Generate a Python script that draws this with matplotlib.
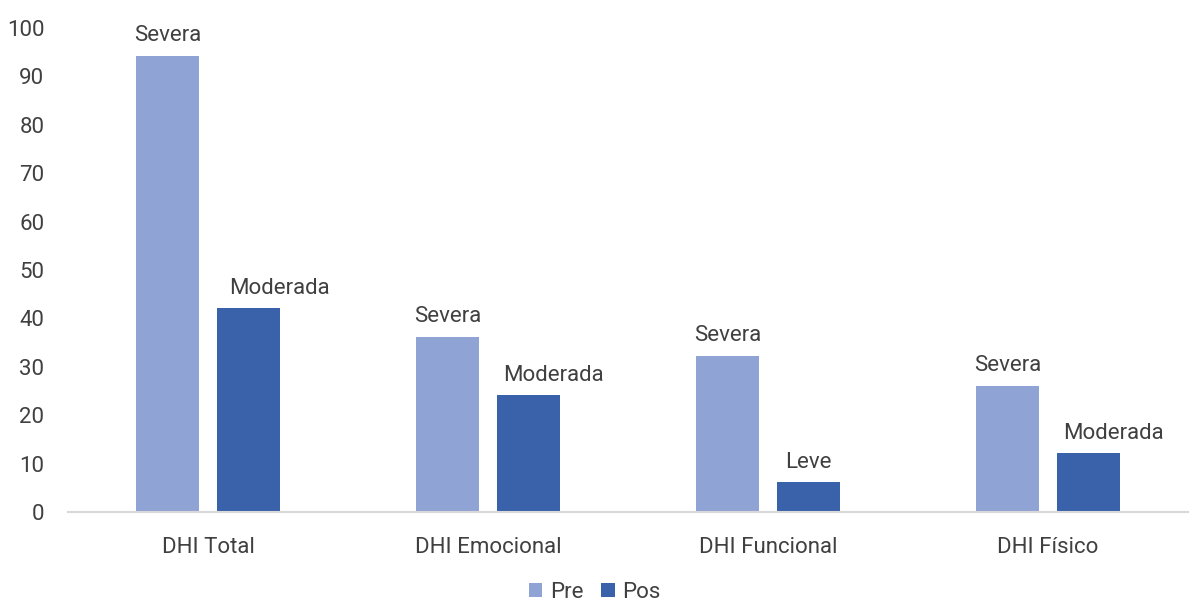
import matplotlib
matplotlib.use("Agg")
import matplotlib.pyplot as plt
import numpy as np

categories = ["DHI Total", "DHI Emocional", "DHI Funcional", "DHI Físico"]
pre_values = [94.3, 36.2, 32.2, 26.1]
pos_values = [42.1, 24.1, 6.1, 12.1]
pre_labels = ["Severa", "Severa", "Severa", "Severa"]
pos_labels = ["Moderada", "Moderada", "Leve", "Moderada"]
series_names = ["Pre", "Pos"]

plt.rcParams['font.family'] = ['Roboto', 'DejaVu Sans']
text_color = "#404040"
c_pre = "#8FA3D4"
c_pos = "#3A62AB"
fs = 16

fig = plt.figure(figsize=(11.9, 6.06), dpi=100)
ax = fig.add_axes([68/1190, 94/606, 1120/1190, 484/606])

x = np.arange(len(categories))
w = 0.225
off = 0.145
b1 = ax.bar(x - off, pre_values, w, color=c_pre, label=series_names[0])
b2 = ax.bar(x + off, pos_values, w, color=c_pos, label=series_names[1])

# label horizontal nudges (points) to mimic the reference label placement
pre_dx = [0, 0, 0, 0]
pos_dx = [22, 18, 0, 18]
for bars, labels, dxs in ((b1, pre_labels, pre_dx), (b2, pos_labels, pos_dx)):
    for rect, lab, dx in zip(bars, labels, dxs):
        ax.annotate(lab, (rect.get_x() + rect.get_width()/2, rect.get_height()),
                    xytext=(dx, 7), textcoords="offset points", ha="center", va="bottom",
                    fontsize=fs, color=text_color, annotation_clip=False)

ax.set_xlim(-0.5, 3.5)
ax.set_ylim(0, 100)
ax.set_yticks(range(0, 101, 10))
ax.set_xticks(x)
ax.set_xticklabels(categories)
ax.tick_params(axis='both', length=0, labelsize=fs, colors=text_color)
ax.tick_params(axis='x', pad=18)
ax.tick_params(axis='y', pad=17)
for s in ["top", "right", "left"]:
    ax.spines[s].set_visible(False)
ax.spines["bottom"].set_color("#D9D9D9")
ax.spines["bottom"].set_linewidth(1.5)

fig.legend(loc="lower center", bbox_to_anchor=(0.5, -0.028), ncol=2, frameon=False,
           fontsize=fs, labelcolor=text_color, handlelength=0.6, handleheight=0.6,
           handletextpad=0.35, columnspacing=0.8)

fig.savefig("out.png", dpi=100)
